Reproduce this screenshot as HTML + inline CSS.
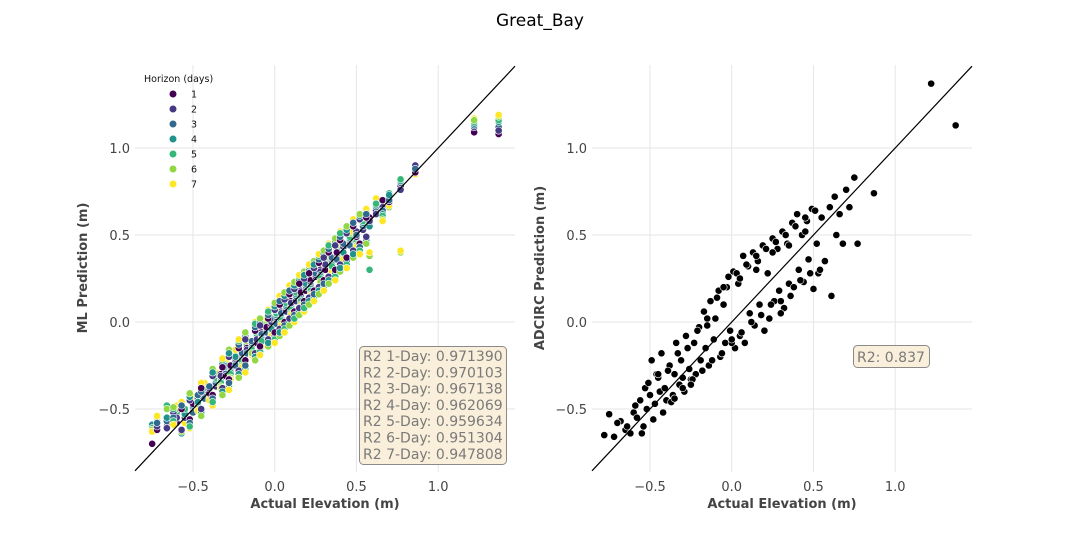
<!DOCTYPE html>
<html><head><meta charset="utf-8"><style>
body{margin:0;background:#fff;}
svg{display:block;font-family:"DejaVu Sans","Liberation Sans",sans-serif;}
</style></head><body>
<svg id="fig" width="1080" height="540">
<rect width="1080" height="540" fill="#fff"/>
<text x="540" y="26" text-anchor="middle" font-size="17" fill="#000">Great_Bay</text>
<g id="left"></g>
<g id="right"></g>
</svg>
<script>
const NS="http://www.w3.org/2000/svg";
const xTicks=[-0.5,0.0,0.5,1.0];
const yTicks=[-0.5,0.0,0.5,1.0];
const horizons=["1","2","3","4","5","6","7"];
const colors=["#440154","#443983","#31688e","#21918c","#35b779","#90d743","#fde725"];
const mlActual=[-0.75,-0.72,-0.66,-0.6,-0.55,-0.5,-0.47,-0.43,-0.4,-0.36,-0.33,-0.3,-0.27,-0.24,-0.2,-0.17,-0.14,-0.11,-0.08,-0.05,-0.02,0.01,0.04,0.07,0.1,0.13,0.16,0.19,0.22,0.25,0.28,0.31,0.35,0.38,0.42,0.46,0.5,0.54,0.58,0.62,0.66,0.7,0.77,0.86,1.22,1.37];
const mlH1=[-0.70,-0.62,-0.60,-0.58,-0.52,-0.47,-0.45,-0.40,-0.41,-0.34,-0.30,-0.31,-0.25,-0.22,-0.19,-0.15,-0.13,-0.12,-0.06,-0.03,-0.02,0.03,0.05,0.08,0.12,0.14,0.17,0.18,0.24,0.26,0.30,0.30,0.36,0.40,0.44,0.47,0.49,0.56,0.60,0.64,0.70,0.69,0.78,0.86,1.09,1.08];
const mlH2=[-0.61,-0.60,-0.61,-0.55,-0.55,-0.49,-0.44,-0.42,-0.38,-0.37,-0.31,-0.28,-0.28,-0.21,-0.21,-0.16,-0.12,-0.10,-0.09,-0.04,0.00,0.00,0.06,0.06,0.11,0.12,0.18,0.20,0.21,0.27,0.29,0.33,0.34,0.39,0.43,0.45,0.52,0.53,0.58,0.62,0.66,0.72,0.76,0.90,1.12,1.10];
const mlH3=[-0.60,-0.58,-0.57,-0.56,-0.50,-0.52,-0.42,-0.44,-0.37,-0.35,-0.33,-0.27,-0.26,-0.25,-0.18,-0.18,-0.11,-0.12,-0.07,-0.06,0.02,-0.01,0.05,0.09,0.09,0.15,0.15,0.21,0.20,0.28,0.27,0.32,0.37,0.36,0.45,0.44,0.50,0.55,0.57,0.66,0.64,0.70,0.80,0.88,1.13,1.12];
const mlH4=[-0.59,-0.62,-0.55,-0.53,-0.53,-0.48,-0.46,-0.39,-0.40,-0.33,-0.34,-0.26,-0.29,-0.20,-0.22,-0.14,-0.15,-0.08,-0.10,-0.02,-0.04,0.04,0.02,0.10,0.08,0.16,0.13,0.22,0.19,0.29,0.26,0.34,0.33,0.41,0.40,0.48,0.47,0.57,0.55,0.67,0.62,0.73,0.81,0.87,1.14,1.15];
const mlH5=[-0.61,-0.57,-0.48,-0.52,-0.50,-0.46,-0.48,-0.38,-0.42,-0.32,-0.35,-0.25,-0.30,-0.19,-0.23,-0.13,-0.16,-0.07,-0.11,-0.01,-0.05,0.05,0.01,0.11,0.07,0.17,0.12,0.23,0.18,0.30,0.25,0.35,0.32,0.42,0.39,0.49,0.46,0.58,0.30,0.68,0.61,0.74,0.82,0.87,1.15,1.16];
const mlH6=[-0.62,-0.55,-0.50,-0.50,-0.57,-0.44,-0.50,-0.36,-0.44,-0.30,-0.37,-0.23,-0.32,-0.17,-0.25,-0.11,-0.18,-0.05,-0.13,0.01,-0.07,0.07,-0.01,0.13,0.05,0.19,0.10,0.25,0.16,0.32,0.23,0.37,0.30,0.44,0.37,0.51,0.44,0.60,0.38,0.70,0.59,0.66,0.40,0.86,1.16,1.18];
const mlH7=[-0.63,-0.54,-0.49,-0.48,-0.58,-0.43,-0.51,-0.35,-0.45,-0.29,-0.38,-0.22,-0.33,-0.16,-0.26,-0.10,-0.19,-0.04,-0.14,0.02,-0.08,0.08,-0.02,0.14,0.04,0.20,0.09,0.26,0.15,0.33,0.22,0.38,0.29,0.45,0.36,0.52,0.43,0.61,0.40,0.71,0.58,0.67,0.41,0.85,1.17,1.19];
const mlActual2=[-0.62,-0.57,-0.52,-0.45,-0.38,-0.32,-0.28,-0.22,-0.18,-0.12,-0.09,-0.04,0.00,0.03,0.06,0.09,0.12,0.15,0.18,0.21,0.24,0.27,0.30,0.33,0.37,0.40,0.44,0.48,0.52,0.56];
const mlB1=[-0.58,-0.50,-0.56,-0.38,-0.42,-0.26,-0.33,-0.15,-0.22,-0.05,-0.14,0.02,-0.06,0.10,0.00,0.16,0.06,0.22,0.12,0.28,0.18,0.34,0.24,0.40,0.30,0.47,0.37,0.55,0.45,0.60];
const mlB2=[-0.52,-0.62,-0.45,-0.50,-0.31,-0.38,-0.20,-0.28,-0.10,-0.18,-0.02,-0.10,0.07,-0.04,0.13,0.02,0.19,0.08,0.25,0.14,0.31,0.20,0.37,0.26,0.44,0.33,0.51,0.41,0.59,0.49];
const mlB3=[-0.55,-0.48,-0.58,-0.40,-0.44,-0.24,-0.35,-0.13,-0.25,-0.03,-0.15,0.04,-0.08,0.12,-0.02,0.18,0.04,0.24,0.10,0.30,0.16,0.36,0.22,0.42,0.28,0.49,0.35,0.57,0.43,0.62];
const mlB4=[-0.50,-0.64,-0.43,-0.52,-0.29,-0.40,-0.18,-0.30,-0.08,-0.20,0.00,-0.12,0.09,-0.06,0.15,0.00,0.21,0.06,0.27,0.12,0.33,0.18,0.39,0.24,0.46,0.31,0.53,0.39,0.61,0.47];
const mlB5=[-0.57,-0.47,-0.60,-0.36,-0.46,-0.22,-0.37,-0.11,-0.27,-0.01,-0.17,0.06,-0.10,0.14,-0.04,0.20,0.02,0.26,0.08,0.32,0.14,0.38,0.20,0.44,0.26,0.51,0.33,0.58,0.41,0.64];
const mlB6=[-0.49,-0.63,-0.41,-0.54,-0.27,-0.42,-0.16,-0.32,-0.06,-0.22,0.02,-0.14,0.11,-0.08,0.17,-0.02,0.23,0.04,0.29,0.10,0.35,0.16,0.41,0.22,0.48,0.29,0.55,0.37,0.62,0.45];
const mlB7=[-0.59,-0.46,-0.61,-0.35,-0.48,-0.21,-0.39,-0.10,-0.29,0.00,-0.19,0.07,-0.12,0.15,-0.06,0.21,0.00,0.27,0.06,0.33,0.12,0.39,0.18,0.45,0.24,0.52,0.31,0.59,0.39,0.65];
const r2Labels=["R2 1-Day: 0.971390","R2 2-Day: 0.970103","R2 3-Day: 0.967138","R2 4-Day: 0.962069","R2 5-Day: 0.959634","R2 6-Day: 0.951304","R2 7-Day: 0.947808"];
const adcircActual=[-0.78,-0.75,-0.72,-0.68,-0.65,-0.62,-0.60,-0.58,-0.56,-0.55,
-0.53,-0.52,-0.50,-0.49,-0.47,-0.46,-0.44,-0.43,-0.41,-0.40,
-0.38,-0.37,-0.35,-0.34,-0.32,-0.31,-0.29,-0.28,-0.26,-0.25,
-0.23,-0.22,-0.20,-0.19,-0.17,-0.16,-0.14,-0.13,-0.11,-0.10,
-0.08,-0.07,-0.05,-0.04,-0.02,-0.01,0.01,0.02,0.04,0.05,
0.07,0.08,0.10,0.11,0.13,0.14,0.16,0.17,0.19,0.20,
0.22,0.23,0.25,0.26,0.28,0.29,0.31,0.32,0.34,0.35,
0.37,0.38,0.40,0.41,0.43,0.44,0.46,0.47,0.49,0.50,
0.52,0.53,0.55,0.57,0.60,0.61,0.63,0.64,0.66,0.68,
0.70,0.72,0.75,0.77,0.87,1.22,1.37,-0.30,0.00,0.30,
-0.70,-0.64,-0.59,-0.54,-0.51,-0.48,-0.45,-0.42,-0.39,-0.36,
-0.33,-0.30,-0.27,-0.24,-0.21,-0.18,-0.15,-0.12,-0.09,-0.06,
-0.03,0.00,0.03,0.06,0.09,0.12,0.15,0.18,0.21,0.24,
0.27,0.30,0.33,0.36,0.39,0.42,0.45,0.48,0.51,0.54,
-0.35,-0.25,-0.15,-0.05,0.05,0.15,0.25,0.35,0.45,-0.45];
const adcircPred=[-0.65,-0.53,-0.66,-0.57,-0.62,-0.64,-0.52,-0.55,-0.45,-0.64,
-0.38,-0.50,-0.42,-0.22,-0.47,-0.30,-0.40,-0.18,-0.38,-0.45,
-0.25,-0.46,-0.30,-0.12,-0.36,-0.22,-0.40,-0.08,-0.27,-0.33,
-0.12,-0.30,-0.03,-0.22,0.06,-0.15,-0.25,0.12,-0.10,0.02,
0.18,-0.20,0.10,-0.12,0.26,-0.05,0.29,-0.15,0.22,-0.08,
0.38,-0.12,0.32,0.05,0.40,-0.02,0.35,0.10,0.44,-0.05,
0.28,0.02,0.48,0.12,0.42,0.18,0.52,0.08,0.45,0.22,
0.57,0.20,0.62,0.30,0.50,0.23,0.58,0.36,0.65,0.19,
0.45,0.28,0.60,0.35,0.66,0.15,0.72,0.50,0.62,0.45,
0.76,0.66,0.83,0.45,0.74,1.37,1.13,-0.32,-0.12,0.05,
-0.58,-0.60,-0.48,-0.60,-0.35,-0.56,-0.32,-0.52,-0.28,-0.42,
-0.18,-0.38,-0.15,-0.33,-0.05,-0.28,0.02,-0.22,0.14,-0.18,
0.20,-0.10,0.28,-0.06,0.33,0.00,0.38,0.04,0.42,0.10,
0.46,0.12,0.50,0.15,0.55,0.24,0.60,0.28,0.64,0.30,
-0.44,-0.36,-0.02,0.20,0.25,0.30,0.40,0.44,0.52,-0.30];
const mlSeries=[mlH1,mlH2,mlH3,mlH4,mlH5,mlH6,mlH7];
const mlSeries2=[mlB1,mlB2,mlB3,mlB4,mlB5,mlB6,mlB7];

function el(tag,attrs,parent,text){const e=document.createElementNS(NS,tag);for(const k in attrs)e.setAttribute(k,attrs[k]);if(text!==undefined)e.textContent=text;parent.appendChild(e);return e;}
function makeAxes(g,x0,x1,ylabel){
  const X=v=>x0+(v-(-0.855))/(1.47+0.855)*(x1-x0);
  const Y=v=>65+(1.477-v)/(1.477+0.862)*(472-65);
  xTicks.forEach(t=>{el('line',{x1:X(t),x2:X(t),y1:65,y2:472,stroke:'#e6e6e6','stroke-width':1},g);
    const tl=el('text',{x:X(t),y:491,'text-anchor':'middle','font-size':13,fill:'#444'},g,t.toFixed(1).replace('-','−'));
    });
  yTicks.forEach(t=>{el('line',{x1:x0,x2:x1,y1:Y(t),y2:Y(t),stroke:'#e6e6e6','stroke-width':1},g);
    const tl=el('text',{x:x0-5,y:Y(t)+5,'text-anchor':'end','font-size':13,fill:'#444'},g,t.toFixed(1).replace('-','−'));
    });
  const xl=el('text',{x:(x0+x1)/2,y:508,'text-anchor':'middle','font-size':13,'font-weight':'bold',fill:'#444'},g,'Actual Elevation (m)');
  
  const yl=el('text',{x:0,y:0,transform:`translate(${x0-48},${268}) rotate(-90)`,'text-anchor':'middle','font-size':13,'font-weight':'bold',fill:'#444'},g,ylabel);
  
  return {X,Y};
}
function drawDiag(g,X,Y){const l=el('line',{x1:X(-0.855),y1:Y(-0.855),x2:X(1.47),y2:Y(1.47),stroke:'#000','stroke-width':1.2},g);
  }
function dot(g,x,y,c){const d=el('circle',{cx:x,cy:y,r:3.6,fill:c,stroke:'#fff','stroke-width':0.6},g);
  }

const L=document.getElementById('left');
const a=makeAxes(L,135,515,'ML Prediction (m)');
function drawSet(act,series){
  act.forEach((v,i)=>{for(let k=0;k<7;k++){const h=(k+i*3)%7;dot(L,a.X(v),a.Y(series[h][i]),colors[h]);}});
}
drawSet(mlActual,mlSeries);
drawSet(mlActual2,mlSeries2);
drawDiag(L,a.X,a.Y);
const lg=el('g',{},L);
el('text',{x:144,y:82,'font-size':9.5,fill:'#111'},lg,'Horizon (days)');
horizons.forEach((h,i)=>{const e=el('g',{},lg);
  
  el('circle',{cx:173,cy:94+i*15,r:3.8,fill:colors[i],stroke:'#fff','stroke-width':0.6},e);
  el('text',{x:191,y:97.5+i*15,'font-size':9.5,fill:'#111'},e,h);});
const box=el('g',{},L);
el('rect',{x:359.5,y:346.5,width:147,height:118,rx:4,fill:'#faefdb',stroke:'#8a8a8a','stroke-width':1},box);
r2Labels.forEach((t,i)=>el('text',{x:363,y:361+i*16.3,'font-size':14,fill:'#7a7a7a'},box,t));

const R=document.getElementById('right');
const b=makeAxes(R,592,972,'ADCIRC Prediction (m)');
adcircActual.forEach((v,i)=>dot(R,b.X(v),b.Y(adcircPred[i]),'#000'));
drawDiag(R,b.X,b.Y);
const box2=el('g',{},R);
el('rect',{x:853.5,y:345.5,width:76,height:22,rx:4,fill:'#faefdb',stroke:'#8a8a8a','stroke-width':1},box2);
el('text',{x:857,y:362,'font-size':14,fill:'#7a7a7a'},box2,'R2: 0.837');
</script>
</body></html>
